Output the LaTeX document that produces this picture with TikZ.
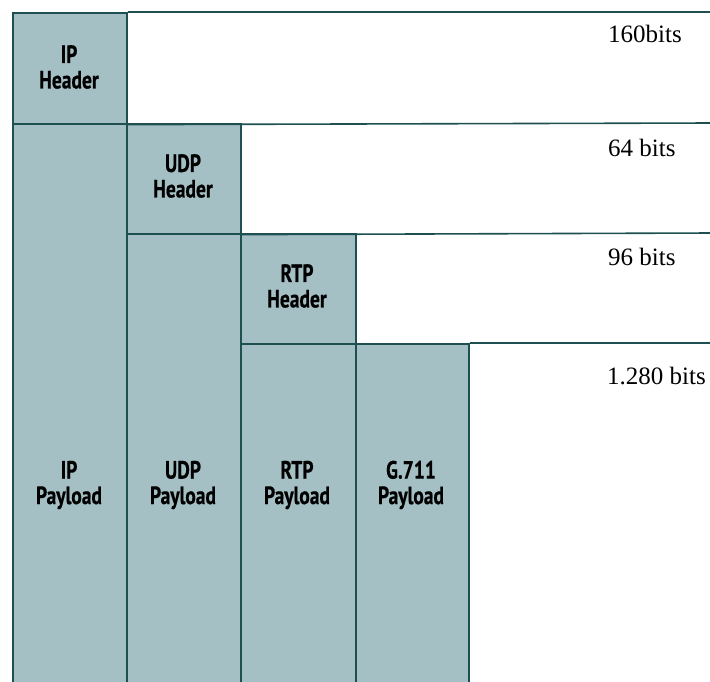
\documentclass[tikz,border=0pt]{standalone}
\usepackage{fontspec}
\setmainfont{Liberation Serif}
\newfontfamily\boxfont[FakeStretch=0.78,FakeBold=0.6]{PT Sans Bold}
\definecolor{boxfill}{RGB}{164,192,196}
\definecolor{edgecol}{RGB}{30,80,82}
\begin{document}
\begin{tikzpicture}[x=1pt,y=-1pt,
  pbox/.style={draw=edgecol,line width=1.6pt,fill=boxfill,rectangle,inner sep=0pt,anchor=north west},
  lab/.style={font=\boxfont\fontsize{25}{25.5}\selectfont,align=center,text=black,inner sep=0pt},
  bits/.style={font=\fontsize{25}{25}\selectfont,anchor=base west,inner sep=0pt},
  rule/.style={draw=edgecol,line width=1.6pt}]
\useasboundingbox (0,0) rectangle (710,681);
\clip (0,0) rectangle (710,681);
\fill[white] (0,0) rectangle (710,681);
% header boxes
\node[pbox,minimum width=114pt,minimum height=111pt] (iph) at (12,12) {};
\node[pbox,minimum width=114pt,minimum height=110pt] (udph) at (126,123) {};
\node[pbox,minimum width=115pt,minimum height=110pt] (rtph) at (240,233) {};
% payload boxes
\node[pbox,minimum width=114pt,minimum height=580pt] (ipp) at (12,123) {};
\node[pbox,minimum width=114pt,minimum height=470pt] (udpp) at (126,233) {};
\node[pbox,minimum width=115pt,minimum height=360pt] (rtpp) at (240,343) {};
\node[pbox,minimum width=113pt,minimum height=360pt] (g711) at (355,343) {};
% right edge coordinates
\coordinate (r1) at (712,12);
\coordinate (r2) at (712,123);
\coordinate (r3) at (712,233);
\coordinate (r4) at (712,343);
\draw[rule] (iph.north east) -- (r1);
\draw[rule] (iph.south east) -- (r2);
\draw[rule] (udph.south east) -- (r3);
\draw[rule] (g711.north east) -- (r4);
% labels
\node[lab] (liph) at (69,67) {IP\\Header};
\node[lab] (ludph) at (183,176) {UDP\\Header};
\node[lab] (lrtph) at (297,286) {RTP\\Header};
\node[lab] (lipp) at (69,485) {IP\\Payload};
\node[lab] (ludpp) at (183,485) {UDP\\Payload};
\node[lab] (lrtpp) at (297,485) {RTP\\Payload};
\node[lab] (lg711) at (411,485) {G.711\\Payload};
% sizes
\node[bits] (b1) at (608,42) {160bits};
\node[bits] (b2) at (608,156) {64 bits};
\node[bits] (b3) at (608,265) {96 bits};
\node[bits] (b4) at (607,384) {1.280 bits};
\end{tikzpicture}
\end{document}
